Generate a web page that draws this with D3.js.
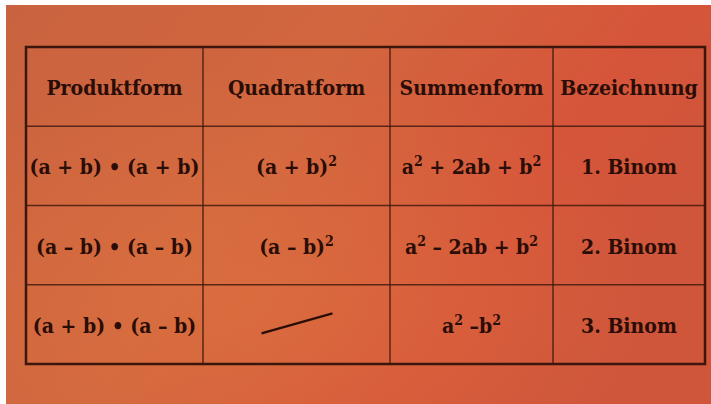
<!DOCTYPE html>
<html>
<head>
<meta charset="utf-8">
<script src="https://cdn.jsdelivr.net/npm/d3@7"></script>
<style>
  body { margin: 0; background: #fff; }
  svg { display: block; }
  .cell { font-family: "DejaVu Serif Condensed", "DejaVu Serif", serif; font-weight: bold; font-stretch: condensed; }
</style>
</head>
<body>
<svg id="chart"></svg>
<script>
// table content
var headers = ["Produktform", "Quadratform", "Summenform", "Bezeichnung"];
var produktform = ["(a + b) \u2022 (a + b)", "(a \u2013 b) \u2022 (a \u2013 b)", "(a + b) \u2022 (a \u2013 b)"];
var quadratform = ["(a + b)\u00B2", "(a \u2013 b)\u00B2", null];
var summenform = ["a\u00B2 + 2ab + b\u00B2", "a\u00B2 \u2013 2ab + b\u00B2", "a\u00B2 \u2013b\u00B2"];
var bezeichnung = ["1. Binom", "2. Binom", "3. Binom"];

var width = 711, height = 404;
var svg = d3.select("#chart").attr("width", width).attr("height", height);

// background gradient
var defs = svg.append("defs");
var bg = defs.append("linearGradient").attr("id", "bg")
  .attr("x1", 0).attr("y1", 0).attr("x2", 1).attr("y2", 0.4);
bg.append("stop").attr("offset", "0%").attr("stop-color", "#c9633f");
bg.append("stop").attr("offset", "45%").attr("stop-color", "#d2663f");
bg.append("stop").attr("offset", "80%").attr("stop-color", "#d6553a");
bg.append("stop").attr("offset", "100%").attr("stop-color", "#cf553b");
var glow = defs.append("radialGradient").attr("id", "glow")
  .attr("cx", 0.35).attr("cy", 0.75).attr("r", 0.6);
glow.append("stop").attr("offset", "0%").attr("stop-color", "#e0773f").attr("stop-opacity", 0.5);
glow.append("stop").attr("offset", "100%").attr("stop-color", "#e0773f").attr("stop-opacity", 0);

svg.append("rect").attr("x", 6).attr("y", 5).attr("width", width - 6).attr("height", height - 5)
  .attr("fill", "url(#bg)");
svg.append("rect").attr("x", 6).attr("y", 5).attr("width", width - 6).attr("height", height - 5)
  .attr("fill", "url(#glow)");

// table layout
var tLeft = 26, tRight = 705, tTop = 47, tBottom = 364;
var colEdges = [tLeft, 203, 390, 553, tRight];
var x = d3.scaleOrdinal().domain(headers).range(colEdges.slice(0, 4));
var colW = function(h) { var i = headers.indexOf(h); return colEdges[i + 1] - colEdges[i]; };

var rowKeys = ["head"].concat(bezeichnung);
var y = d3.scaleBand().domain(rowKeys).range([tTop, tBottom]);

// cells as rows of values
var rows = [headers].concat(d3.range(3).map(function(i) {
  return [produktform[i], quadratform[i], summenform[i], bezeichnung[i]];
}));

var ink = "#2a0d06";
var fs = 21;

var g = svg.append("g");
rows.forEach(function(r, ri) {
  var ry = y(rowKeys[ri]);
  r.forEach(function(v, ci) {
    var h = headers[ci];
    var cx = x(h) + colW(h) / 2;
    var cy = ry + y.bandwidth() / 2;
    if (v === null) {
      // empty cell is struck through
      g.append("line")
        .attr("x1", cx - 35).attr("y1", cy + 9)
        .attr("x2", cx + 36).attr("y2", cy - 11)
        .attr("stroke", ink).attr("stroke-width", 2.2);
      return;
    }
    var t = g.append("text")
      .attr("class", "cell")
      .attr("x", cx).attr("y", cy + fs * 0.4)
      .attr("text-anchor", "middle")
      .attr("font-size", fs)
      .attr("fill", ink);
    // superscript 2 drawn as raised small digit
    var parts = v.split("\u00B2");
    parts.forEach(function(p, pi) {
      if (p) t.append("tspan").attr("dy", pi > 0 ? 8 : 0).text(p);
      else if (pi > 0) t.append("tspan").attr("dy", 8).text("");
      if (pi < parts.length - 1) {
        t.append("tspan").attr("dy", -8).attr("font-size", 14).text("2");
      }
    });
  });
});

// grid lines
var grid = svg.append("g").attr("stroke", "#3a160c").attr("fill", "none");
colEdges.slice(1, 4).forEach(function(cx) {
  grid.append("line").attr("x1", cx).attr("x2", cx).attr("y1", tTop).attr("y2", tBottom)
    .attr("stroke-width", 1.5).attr("stroke-opacity", 0.8);
});
rowKeys.slice(1).forEach(function(k) {
  grid.append("line").attr("x1", tLeft).attr("x2", tRight).attr("y1", y(k)).attr("y2", y(k))
    .attr("stroke-width", 1.5).attr("stroke-opacity", 0.8);
});
grid.append("rect").attr("x", tLeft).attr("y", tTop)
  .attr("width", tRight - tLeft).attr("height", tBottom - tTop)
  .attr("stroke-width", 2.5);
</script>
</body>
</html>
